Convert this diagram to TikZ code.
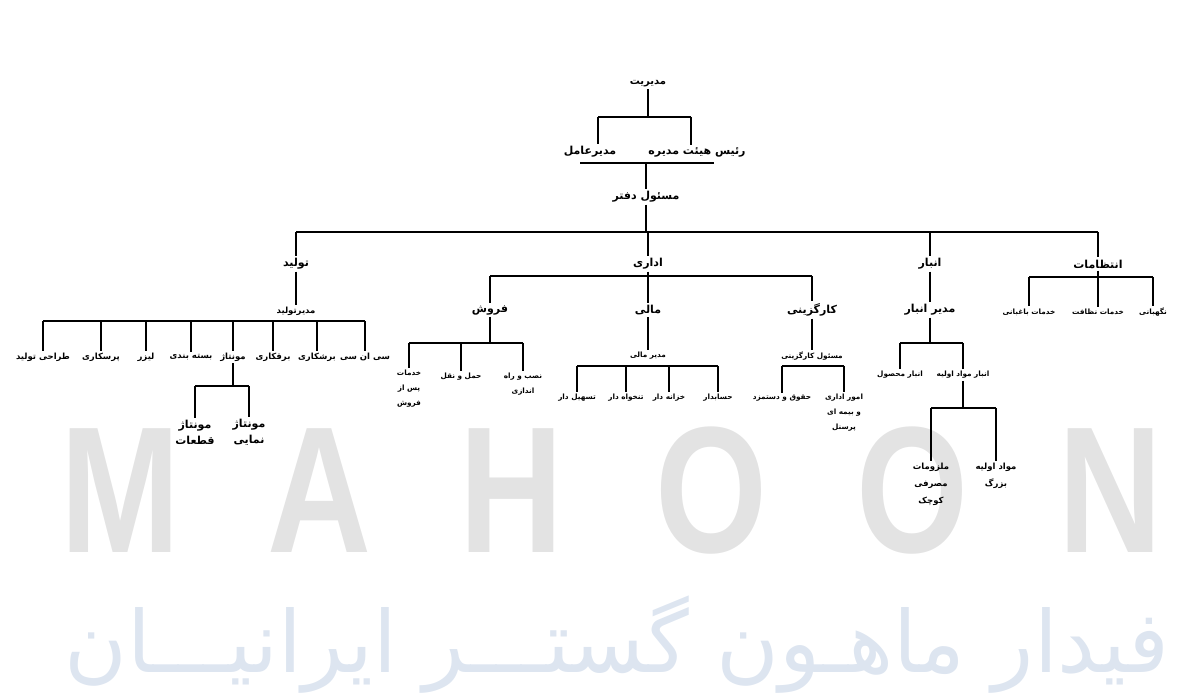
\documentclass[tikz,border=0pt]{standalone}
\usepackage{fontspec}
\newfontfamily\farsi[Script=Arabic]{DejaVu Sans}
\newfontfamily\latinwm{Liberation Sans}
\TeXXeTstate=1
\newcommand{\fa}[1]{\beginR #1\endR}
\definecolor{wmgray}{RGB}{227,227,227}
\definecolor{wmblue}{RGB}{221,229,240}

\tikzset{
  big/.style={font=\farsi\bfseries\fontsize{11}{16}\selectfont, inner sep=2pt, align=center},
  mid/.style={font=\farsi\bfseries\fontsize{8.5}{17}\selectfont, inner sep=2pt, align=center},
  small/.style={font=\farsi\bfseries\fontsize{7.3}{15}\selectfont, inner sep=2pt, align=center},
  link/.style={line width=1.6pt},
}

\begin{document}
\begin{tikzpicture}[x=1pt,y=-1pt]
\useasboundingbox (0,0) rectangle (1200,700);

% watermark
\foreach \l/\x [count=\i] in {M/120,A/319,H/511,O/711,O/912,N/1110}
  \node[font=\latinwm\bfseries\fontsize{180}{180}\selectfont, text=wmgray, xscale=0.8, anchor=base, inner sep=0pt] (wm\i) at (\x,552) {\l};
\node[font=\farsi\fontsize{60}{60}\selectfont, text=wmblue, inner sep=0pt] (wmfa) at (617,645)
  {\resizebox{1105pt}{!}{\fa{فیدار ماهـون گستـــر ایرانیـــان}}};

% top
\node[mid, font=\farsi\bfseries\fontsize{10}{12}\selectfont] (modir) at (648,84) {\fa{مدیریت}};
\node[big] (amel) at (590,152) {\fa{مدیرعامل}};
\node[big] (raees) at (697,152) {\fa{رئیس هیئت مدیره}};
\node[big] (daftar) at (646,197) {\fa{مسئول دفتر}};

\coordinate (topbar) at (0,117);
\coordinate (jamel) at (598,117);
\coordinate (jraees) at (691,117);
\coordinate (lowbar) at (0,163);
\draw[link] (modir) -- (modir |- topbar);
\draw[link] (jamel) -- (jraees);
\draw[link] (jamel) -- (jamel |- amel.north);
\draw[link] (jraees) -- (jraees |- raees.north);
\draw[link] (580,163) coordinate (la) -- (714,163) coordinate (lb);
\draw[link] (daftar |- lowbar) -- (daftar);

% level 1
\node[big] (tolid) at (296,264) {\fa{تولید}};
\node[big] (edari) at (648,264) {\fa{اداری}};
\node[big] (anbar) at (930,264) {\fa{انبار}};
\node[big] (entezamat) at (1098,264) {\fa{انتظامات}};

\coordinate (mainbar) at (0,232);
\draw[link] (daftar) -- (daftar |- mainbar);
\draw[link] (tolid |- mainbar) -- (entezamat |- mainbar);
\foreach \n in {tolid,edari,anbar,entezamat}
  \draw[link] (\n |- mainbar) -- (\n);

% tolid
\node[mid] (modirtolid) at (296,311) {\fa{مدیرتولید}};
\draw[link] (tolid) -- (modirtolid);
\foreach \n/\x/\t in {t1/43/طراحی تولید, t2/101/پرسکاری, t3/146/لیزر, t4/191/بسته بندی,
    t5/233/مونتاژ, t6/273/برقکاری, t7/317/برشکاری, t8/365/سی ان سی}
  \node[mid] (\n) at (\x,357) {\fa{\t}};
\coordinate (tbar) at (0,321);
\draw[link] (t1 |- tbar) -- (t8 |- tbar);
\foreach \n in {t1,t2,t3,t4,t5,t6,t7,t8}
  \draw[link] (\n |- tbar) -- (\n);

\node[big] (m1) at (195,432) {\fa{مونتاژ}\\\fa{قطعات}};
\node[big] (m2) at (249,432) {\fa{مونتاژ}\\\fa{نمایی}};
\coordinate (mbar) at (0,386);
\draw[link] (t5) -- (t5 |- mbar);
\draw[link] (m1 |- mbar) -- (m2 |- mbar);
\foreach \n in {m1,m2}
  \draw[link] (\n |- mbar) -- (\n);

% edari
\node[big] (forush) at (490,310) {\fa{فروش}};
\node[big] (mali) at (648,310) {\fa{مالی}};
\node[big] (kargozini) at (812,310) {\fa{کارگزینی}};
\coordinate (ebar) at (0,276);
\draw[link] (edari) -- (edari |- ebar);
\draw[link] (forush |- ebar) -- (kargozini |- ebar);
\foreach \n in {forush,mali,kargozini}
  \draw[link] (\n |- ebar) -- (\n);

\node[small] (f1) at (409,389) {\fa{خدمات}\\\fa{پس از}\\\fa{فروش}};
\node[small] (f2) at (461,377) {\fa{حمل و نقل}};
\node[small] (f3) at (523,384) {\fa{نصب و راه}\\\fa{اندازی}};
\coordinate (fbar) at (0,343);
\draw[link] (forush) -- (forush |- fbar);
\draw[link] (f1 |- fbar) -- (f3 |- fbar);
\foreach \n in {f1,f2,f3}
  \draw[link] (\n |- fbar) -- (\n);

\node[small] (modirmali) at (648,356) {\fa{مدیر مالی}};
\draw[link] (mali) -- (modirmali);
\foreach \n/\x/\t in {a1/577/تسهیل دار, a2/626/تنخواه دار, a3/669/خزانه دار, a4/718/حسابدار}
  \node[small] (\n) at (\x,398) {\fa{\t}};
\coordinate (abar) at (0,366);
\draw[link] (a1 |- abar) -- (a4 |- abar);
\foreach \n in {a1,a2,a3,a4}
  \draw[link] (\n |- abar) -- (\n);

\node[small] (masoolk) at (812,356) {\fa{مسئول کارگزینی}};
\draw[link] (kargozini) -- (masoolk);
\node[small] (k1) at (782,398) {\fa{حقوق و دستمزد}};
\node[small] (k2) at (844,413) {\fa{امور اداری}\\\fa{و بیمه ای}\\\fa{پرسنل}};
\coordinate (kbar) at (0,366);
\draw[link] (k1 |- kbar) -- (k2 |- kbar);
\foreach \n in {k1,k2}
  \draw[link] (\n |- kbar) -- (\n);

% anbar
\node[big] (modiranbar) at (930,310) {\fa{مدیر انبار}};
\draw[link] (anbar) -- (modiranbar);
\node[small] (n1) at (900,375) {\fa{انبار محصول}};
\node[small] (n2) at (963,375) {\fa{انبار مواد اولیه}};
\coordinate (nbar) at (0,343);
\draw[link] (modiranbar) -- (modiranbar |- nbar);
\draw[link] (n1 |- nbar) -- (n2 |- nbar);
\foreach \n in {n1,n2}
  \draw[link] (\n |- nbar) -- (\n);

\node[mid] (o1) at (931,484) {\fa{ملزومات}\\\fa{مصرفی}\\\fa{کوچک}};
\node[mid] (o2) at (996,476) {\fa{مواد اولیه}\\\fa{بزرگ}};
\coordinate (obar) at (0,408);
\draw[link] (n2) -- (n2 |- obar);
\draw[link] (o1 |- obar) -- (o2 |- obar);
\foreach \n in {o1,o2}
  \draw[link] (\n |- obar) -- (\n);

% entezamat
\foreach \n/\x/\t in {z1/1029/خدمات باغبانی, z2/1098/خدمات نظافت, z3/1153/نگهبانی}
  \node[small] (\n) at (\x,312) {\fa{\t}};
\coordinate (zbar) at (0,277);
\draw[link] (entezamat) -- (entezamat |- zbar);
\draw[link] (z1 |- zbar) -- (z3 |- zbar);
\foreach \n in {z1,z2,z3}
  \draw[link] (\n |- zbar) -- (\n);
\end{tikzpicture}
\end{document}
